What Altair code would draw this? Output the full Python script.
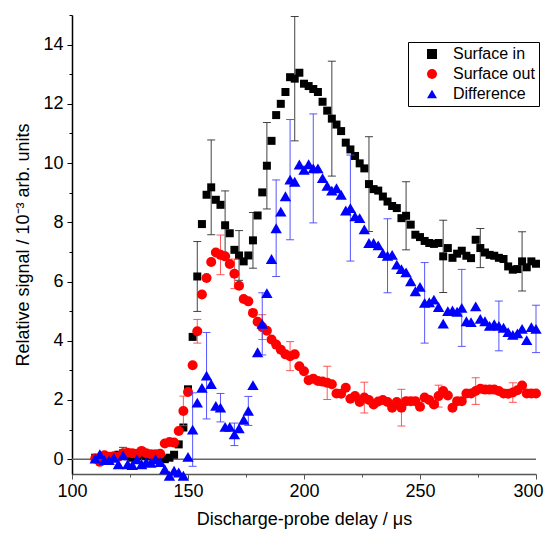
import altair as alt
import pandas as pd

# ---------------- data ----------------
delay = list(range(110, 301, 2))

surface_in = [
    0.05, 0.0, 0.1, 0.05, 0.1, 0.15, 0.2, 0.1, 0.05, 0.1,        # 110-128
    0.15, 0.1, 0.1, 0.05, 0.1, 0.0, 0.05, 0.15, 0.5, 1.07,       # 130-148
    2.36, 4.13, 6.17, 7.94, 8.93, 9.18, 8.76, 8.59, 7.9, 7.63,   # 150-168
    7.07, 6.88, 6.68, 6.88, 7.39, 8.23, 9.01, 9.91, 10.75, 11.62,  # 170-188
    12.0, 12.4, 12.9, 12.85, 13.05, 12.68, 12.6, 12.5, 12.4, 12.07,  # 190-208
    11.77, 11.5, 11.3, 11.08, 10.69, 10.46, 10.24, 9.99, 9.82, 9.29,  # 210-228
    9.12, 9.07, 8.87, 8.7, 8.55, 8.48, 8.14, 8.22, 7.92, 7.58,   # 230-248
    7.5, 7.37, 7.3, 7.27, 7.3, 6.85, 7.13, 6.8, 6.94, 7.04,      # 250-268
    6.87, 6.79, 7.41, 7.13, 6.98, 6.9, 6.87, 6.8, 6.76, 6.51,    # 270-288
    6.4, 6.42, 6.68, 6.48, 6.68, 6.6,                            # 290-300
]

surface_out = [
    0.02, -0.09, 0.13, 0.08, 0.1, 0.08, 0.2, 0.22, 0.2, 0.18,    # 110-128
    0.28, 0.2, 0.17, 0.17, 0.18, 0.53, 0.58, 0.56, 0.95, 1.63,   # 130-148
    2.27, 3.17, 4.32, 5.56, 6.12, 6.66, 6.98, 6.9, 6.85, 6.59,   # 150-168
    6.26, 5.86, 5.41, 5.33, 4.94, 4.64, 4.46, 4.34, 4.04, 3.87,  # 170-188
    3.7, 3.54, 3.48, 3.54, 3.14, 2.97, 2.67, 2.72, 2.64, 2.62,   # 190-208
    2.58, 2.53, 2.22, 2.21, 2.41, 2.04, 2.13, 1.93, 2.08, 2.0,   # 210-228
    1.85, 1.95, 2.0, 1.93, 1.74, 1.93, 1.74, 1.96, 1.96, 1.96,   # 230-248
    1.77, 2.08, 2.0, 1.85, 2.13, 2.3, 2.15, 1.74, 1.96, 1.96,    # 250-268
    2.22, 2.22, 2.3, 2.38, 2.35, 2.35, 2.35, 2.3, 2.22, 2.21,    # 270-288
    2.25, 2.33, 2.49, 2.22, 2.22, 2.22,                          # 290-300
]

difference = [
    0.02, 0.17, -0.03, -0.03, 0.05, -0.17, 0.13, -0.17, -0.2, 0.0,   # 110-128
    -0.17, -0.1, -0.12, 0.0, -0.1, -0.34, -0.56, -0.39, -0.45, -0.56,  # 130-148
    0.08, 1.0, 1.91, 2.41, 2.82, 2.54, 1.8, 1.74, 1.09, 1.09,    # 150-168
    0.84, 1.04, 1.33, 1.63, 2.5, 3.61, 4.57, 5.61, 6.76, 7.8,    # 170-188
    8.36, 8.88, 9.44, 9.37, 9.95, 9.77, 9.96, 9.82, 9.82, 9.49,  # 190-208
    9.23, 9.07, 9.15, 8.93, 8.4, 8.48, 8.2, 8.14, 7.76, 7.3,     # 210-228
    7.3, 7.22, 6.96, 6.87, 6.9, 6.57, 6.42, 6.31, 6.01, 5.67,    # 230-248
    5.82, 5.28, 5.3, 5.39, 5.14, 4.58, 5.0, 5.02, 4.98, 5.11,    # 250-268
    4.66, 4.63, 5.16, 4.74, 4.66, 4.5, 4.56, 4.5, 4.44, 4.29,    # 270-288
    4.2, 4.25, 4.4, 4.02, 4.46, 4.4,                             # 290-300
]

err_in_x = [122, 154, 160, 166, 172, 178, 184, 196, 212, 228, 244, 260, 276, 294]
err_in_v = [0.2, 1.18, 1.6, 1.16, 0.84, 0.94, 1.46, 2.1, 1.94, 1.6, 1.15, 1.22, 0.66, 1.0]

err_out_x = [122, 148, 154, 164, 170, 182, 194, 210, 226, 242, 258, 274, 290]
err_out_v = [0.1, 0.5, 0.4, 0.67, 0.5, 0.42, 0.49, 0.56, 0.52, 0.62, 0.37, 0.45, 0.33]

err_diff_x = [152, 158, 164, 170, 176, 182, 188, 194, 204, 220, 236, 252, 268, 284, 300]
err_diff_v = [1.24, 1.46, 0.48, 0.38, 0.49, 1.05, 1.63, 2.03, 1.84, 1.79, 1.25, 1.36, 1.3, 0.84, 0.8]

series_names = ["Surface in", "Surface out", "Difference"]
series_colors = ["#000000", "#ff0000", "#0000ff"]
bar_colors = ["#222222", "#ff3a3a", "#3a3aff"]
series_shapes = ["square", "circle", "triangle-up"]
series_sizes = [64, 100, 130]

x_ticks = [100, 125, 150, 175, 200, 225, 250, 275, 300]
y_ticks = list(range(0, 16))

# ---------------- tables ----------------
series_values = [surface_in, surface_out, difference]
series_errs = [dict(zip(err_in_x, err_in_v)), dict(zip(err_out_x, err_out_v)),
               dict(zip(err_diff_x, err_diff_v))]

rows = []
for name, vals, errs in zip(series_names, series_values, series_errs):
    for x, v in zip(delay, vals):
        e = errs.get(x)
        rows.append({"series": name, "delay": x, "signal": v,
                     "lo": (v - e) if e is not None else None,
                     "hi": (v + e) if e is not None else None})
df = pd.DataFrame(rows)
zero_df = pd.DataFrame({"level": [0]})

FONT = "Liberation Sans"

x_axis = alt.Axis(
    title="Discharge-probe delay / \u03bcs",
    values=x_ticks,
    labelExpr="datum.value % 50 == 0 ? datum.label : ''",
    tickSize={"condition": {"test": "datum.value % 50 != 0", "value": 3}, "value": 5},
    labelOffset={"condition": {"test": "datum.value == 300", "value": -8}, "value": 0},
    domainColor="#555555", tickColor="#555555",
    labelPadding=3, titlePadding=10, labelFlush=False, labelOverlap=False,
)
y_axis = alt.Axis(
    title="Relative signal / 10\u207b\u00b3 arb. units",
    values=y_ticks,
    labelExpr="datum.value % 2 == 0 ? datum.label : ''",
    tickSize={"condition": {"test": "datum.value % 2 != 0", "value": 3}, "value": 5},
    domainColor="#000000", tickColor="#000000",
    labelPadding=4, titlePadding=10, labelFlush=False, labelOverlap=False,
)
x_scale = alt.Scale(domain=[100, 300], nice=False, zero=False)
y_scale = alt.Scale(domain=[-0.5, 15], nice=False, zero=False)

color_scale = alt.Scale(domain=series_names, range=series_colors)
shape_scale = alt.Scale(domain=series_names, range=series_shapes)
legend = alt.Legend(title=None, orient="none", legendX=336, legendY=27)

base = alt.Chart(df)

zero_line = alt.Chart(zero_df).mark_rule(color="#666666", strokeWidth=1.5).encode(
    y=alt.Y("level:Q", scale=y_scale, axis=y_axis)
)

layers = [zero_line]
for name, bcol, size in zip(series_names, bar_colors, series_sizes):
    src = base.transform_filter(f"datum.series == '{name}'")
    errsrc = src.transform_filter("isValid(datum.lo)")
    rule = errsrc.mark_rule(color=bcol, strokeWidth=1, opacity=0.85).encode(
        x=alt.X("delay:Q", scale=x_scale, axis=x_axis),
        y=alt.Y("lo:Q", scale=y_scale, axis=y_axis),
        y2="hi:Q",
    )
    cap_lo = errsrc.mark_tick(color=bcol, orient="horizontal", size=8, thickness=1, opacity=0.85).encode(
        x=alt.X("delay:Q", scale=x_scale, axis=x_axis),
        y=alt.Y("lo:Q", scale=y_scale, axis=y_axis),
    )
    cap_hi = errsrc.mark_tick(color=bcol, orient="horizontal", size=8, thickness=1, opacity=0.85).encode(
        x=alt.X("delay:Q", scale=x_scale, axis=x_axis),
        y=alt.Y("hi:Q", scale=y_scale, axis=y_axis),
    )
    pts = src.mark_point(filled=True, opacity=1, size=size, strokeWidth=0).encode(
        x=alt.X("delay:Q", scale=x_scale, axis=x_axis),
        y=alt.Y("signal:Q", scale=y_scale, axis=y_axis),
        color=alt.Color("series:N", scale=color_scale, legend=legend),
        shape=alt.Shape("series:N", scale=shape_scale, legend=legend),
    )
    layers += [rule, cap_lo, cap_hi, pts]

chart = alt.layer(*layers).properties(
    width=464, height=459,
    autosize=alt.AutoSizeParams(type="none"),
    padding={"left": 64, "top": 7, "right": 9, "bottom": 58},
).configure_view(stroke=None).configure_axis(
    labelFont=FONT, titleFont=FONT, labelFontSize=18, titleFontSize=18,
    titleFontWeight="normal", labelColor="black", titleColor="black",
    grid=False, domainWidth=1.5, tickWidth=1,
).configure_legend(
    strokeColor="black", fillColor="white", padding=4, labelFont=FONT,
    labelFontSize=16, labelColor="black", symbolSize=100, symbolOffset=12,
    labelOffset=13, rowPadding=4, symbolStrokeWidth=0,
)

chart.save("out.html", embed_options={"renderer": "svg", "actions": False})
